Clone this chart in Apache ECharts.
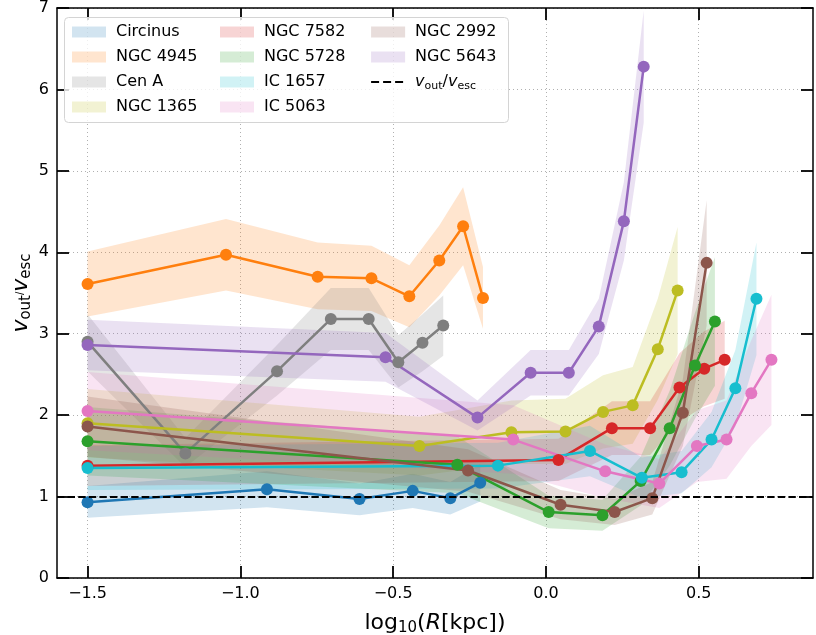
<!DOCTYPE html>
<html>
<head>
<meta charset="utf-8">
<script src="https://cdn.jsdelivr.net/npm/echarts@6/dist/echarts.min.js"></script>
<style>
html, body { margin: 0; padding: 0; background: #fff; }
#chart { width: 816px; height: 635px; }
</style>
</head>
<body>
<div id="chart"></div>
<script>
// log10(R[kpc]) positions, v_out/v_esc values and shaded band (lo / hi) per galaxy
const circinusR  = [-1.5, -0.913, -0.61, -0.436, -0.313, -0.215];
const circinusV  = [0.93, 1.09, 0.97, 1.07, 0.98, 1.17];
const circinusLo = [0.74, 0.87, 0.77, 0.86, 0.78, 0.94];
const circinusHi = [1.13, 1.31, 1.16, 1.28, 1.18, 1.40];

const ngc4945R  = [-1.5, -1.047, -0.747, -0.571, -0.447, -0.349, -0.271, -0.206];
const ngc4945V  = [3.61, 3.97, 3.70, 3.68, 3.46, 3.90, 4.32, 3.44];
const ngc4945Lo = [3.21, 3.53, 3.30, 3.28, 3.08, 3.47, 3.84, 3.06];
const ngc4945Hi = [4.01, 4.41, 4.12, 4.08, 3.84, 4.33, 4.80, 3.82];

const cenAR  = [-1.5, -1.18, -0.88, -0.704, -0.58, -0.483, -0.404, -0.336];
const cenAV  = [2.90, 1.53, 2.54, 3.18, 3.18, 2.65, 2.89, 3.10];
const cenALo = [2.54, 1.36, 2.24, 2.80, 2.80, 2.34, 2.54, 2.73];
const cenAHi = [3.24, 1.72, 2.86, 3.56, 3.56, 2.98, 3.24, 3.47];

const ngc1365R  = [-1.5, -0.414, -0.113, 0.064, 0.187, 0.284, 0.366, 0.431];
const ngc1365V  = [1.90, 1.62, 1.79, 1.80, 2.04, 2.12, 2.81, 3.53];
const ngc1365Lo = [1.48, 1.26, 1.40, 1.40, 1.59, 1.65, 2.19, 2.75];
const ngc1365Hi = [2.32, 1.98, 2.18, 2.20, 2.49, 2.59, 3.43, 4.31];

const ngc7582R  = [-1.5, 0.041, 0.216, 0.341, 0.437, 0.518, 0.585];
const ngc7582V  = [1.38, 1.45, 1.84, 1.84, 2.34, 2.57, 2.68];
const ngc7582Lo = [1.13, 1.19, 1.51, 1.51, 1.92, 2.11, 2.20];
const ngc7582Hi = [1.63, 1.71, 2.17, 2.17, 2.76, 3.03, 3.16];

const ngc5728R  = [-1.5, -0.29, 0.009, 0.185, 0.31, 0.405, 0.488, 0.553];
const ngc5728V  = [1.68, 1.39, 0.81, 0.77, 1.19, 1.84, 2.61, 3.15];
const ngc5728Lo = [1.26, 1.04, 0.61, 0.58, 0.89, 1.38, 1.96, 2.36];
const ngc5728Hi = [2.10, 1.74, 1.01, 0.96, 1.49, 2.30, 3.26, 3.94];

const ic1657R  = [-1.5, -0.157, 0.144, 0.314, 0.444, 0.542, 0.62, 0.689];
const ic1657V  = [1.35, 1.38, 1.56, 1.23, 1.30, 1.70, 2.33, 3.43];
const ic1657Lo = [1.08, 1.10, 1.25, 0.98, 1.04, 1.36, 1.86, 2.74];
const ic1657Hi = [1.62, 1.66, 1.87, 1.48, 1.56, 2.04, 2.80, 4.12];

const ic5063R  = [-1.5, -0.107, 0.194, 0.371, 0.494, 0.591, 0.672, 0.738];
const ic5063V  = [2.05, 1.70, 1.31, 1.16, 1.62, 1.70, 2.27, 2.68];
const ic5063Lo = [1.57, 1.28, 0.98, 0.86, 1.18, 1.22, 1.62, 1.88];
const ic5063Hi = [2.53, 2.12, 1.64, 1.46, 2.06, 2.18, 2.92, 3.48];

const ngc2992R  = [-1.5, -0.255, 0.048, 0.225, 0.348, 0.448, 0.526];
const ngc2992V  = [1.86, 1.32, 0.90, 0.81, 0.98, 2.03, 3.87];
const ngc2992Lo = [1.49, 1.06, 0.72, 0.65, 0.78, 1.62, 3.10];
const ngc2992Hi = [2.23, 1.58, 1.08, 0.97, 1.18, 2.44, 4.64];

const ngc5643R  = [-1.5, -0.525, -0.224, -0.05, 0.075, 0.173, 0.255, 0.32];
const ngc5643V  = [2.86, 2.71, 1.97, 2.52, 2.52, 3.09, 4.38, 6.28];
const ngc5643Lo = [2.55, 2.41, 1.81, 2.24, 2.24, 2.75, 3.90, 5.59];
const ngc5643Hi = [3.17, 3.01, 2.18, 2.80, 2.80, 3.43, 4.86, 6.97];

const escapeRatio = 1;
const xTicks = [-1.5, -1.0, -0.5, 0.0, 0.5];

const galaxies = [
    ['Circinus', circinusR, circinusV, circinusLo, circinusHi, '#1f77b4'],
    ['NGC 4945', ngc4945R, ngc4945V, ngc4945Lo, ngc4945Hi, '#ff7f0e'],
    ['Cen A', cenAR, cenAV, cenALo, cenAHi, '#7f7f7f'],
    ['NGC 1365', ngc1365R, ngc1365V, ngc1365Lo, ngc1365Hi, '#bcbd22'],
    ['NGC 7582', ngc7582R, ngc7582V, ngc7582Lo, ngc7582Hi, '#d62728'],
    ['NGC 5728', ngc5728R, ngc5728V, ngc5728Lo, ngc5728Hi, '#2ca02c'],
    ['IC 1657', ic1657R, ic1657V, ic1657Lo, ic1657Hi, '#17becf'],
    ['IC 5063', ic5063R, ic5063V, ic5063Lo, ic5063Hi, '#e377c2'],
    ['NGC 2992', ngc2992R, ngc2992V, ngc2992Lo, ngc2992Hi, '#8c564b'],
    ['NGC 5643', ngc5643R, ngc5643V, ngc5643Lo, ngc5643Hi, '#9467bd'],
];

const FONT = '"DejaVu Sans", Verdana, sans-serif';
const DASH = [7.4, 3.2];

function fade(hex, a) {
    const n = parseInt(hex.slice(1), 16);
    return `rgba(${(n >> 16) & 255},${(n >> 8) & 255},${n & 255},${a})`;
}

// shaded band as one polygon through the axis scales
function bandSeries(name, xs, lo, hi, color) {
    return {
        type: 'custom',
        name: name,
        silent: true,
        clip: true,
        itemStyle: {color: fade(color, 0.2)},
        encode: {x: 0, y: [1, 2]},
        data: xs.map((x, i) => [x, lo[i], hi[i]]),
        renderItem: function (params, api) {
            if (params.dataIndex !== 0) return null;
            const pts = [];
            for (let i = 0; i < xs.length; i++) pts.push(api.coord([xs[i], hi[i]]));
            for (let i = xs.length - 1; i >= 0; i--) pts.push(api.coord([xs[i], lo[i]]));
            return {
                type: 'polygon',
                shape: {points: pts},
                style: {fill: fade(color, 0.2), stroke: null},
            };
        },
    };
}

const series = [];
galaxies.forEach(g => {
    const [name, xs, ys, lo, hi, color] = g;
    series.push({
        type: 'line',
        name: name + ' line',
        data: xs.map((x, i) => [x, ys[i]]),
        symbol: 'circle',
        symbolSize: 12,
        showAllSymbol: true,
        lineStyle: {color: color, width: 2.5},
        itemStyle: {color: color},
        silent: true,
    });
    series.push(bandSeries(name, xs, lo, hi, color));
});
series.push({
    type: 'line',
    name: 'ratio',
    data: [],
    symbol: 'none',
    itemStyle: {color: '#000'},
    lineStyle: {color: '#000', width: 2, type: DASH},
    markLine: {
        silent: true,
        symbol: 'none',
        label: {show: false},
        lineStyle: {color: '#000', width: 2, type: DASH},
        data: [{yAxis: escapeRatio}],
    },
});

const rich = {
    n: {fontFamily: FONT, fontSize: 22, color: '#000'},
    i: {fontFamily: FONT, fontSize: 22, fontStyle: 'italic', color: '#000'},
    s: {fontFamily: FONT, fontSize: 15, color: '#000', padding: [11, 0, 0, 0]},
};
const legendRich = {
    i: {fontFamily: FONT, fontSize: 16, fontStyle: 'italic', color: '#000'},
    s: {fontFamily: FONT, fontSize: 11, color: '#000', padding: [8, 0, 0, 0]},
};

function legendCol(left, items) {
    return {
        orient: 'vertical',
        left: left,
        top: 23,
        padding: 0,
        itemGap: 7,
        itemWidth: 34,
        itemHeight: 11,
        selectedMode: false,
        z: 100,
        textStyle: {fontFamily: FONT, fontSize: 16, color: '#000', lineHeight: 18, padding: [0, 0, 0, 5], rich: legendRich},
        formatter: name => name === 'ratio' ? '{i|v}{s|out}/{i|v}{s|esc}' : name,
        data: items.map(g => g === 'ratio'
            ? {name: 'ratio', itemStyle: {color: 'rgba(0,0,0,0)', opacity: 0}, lineStyle: {color: '#000', width: 2.2, type: [8, 4]}}
            : {name: g[0], icon: 'rect', itemStyle: {color: fade(g[5], 0.2)}}),
    };
}

const axisLineStyle = {color: '#000', width: 1.5};
const tickStyle = {color: '#000', width: 1.8};

const chart = echarts.init(document.getElementById('chart'));
chart.setOption({
    animation: false,
    backgroundColor: '#fff',
    grid: {left: 57, right: 3, top: 8, bottom: 57, containLabel: false, outerBoundsMode: 'none'},
    graphic: [{
        type: 'rect',
        left: 64, top: 17,
        shape: {width: 444, height: 105, r: 4},
        style: {fill: 'rgba(255,255,255,0.8)', stroke: '#d4d4d4', lineWidth: 1},
        z: 90,
    }],
    legend: [
        legendCol(72, galaxies.slice(0, 4)),
        legendCol(220, galaxies.slice(4, 8)),
        legendCol(370, [galaxies[8], galaxies[9], 'ratio']),
    ],
    xAxis: [{
        type: 'value',
        min: -1.6,
        max: 0.874,
        position: 'bottom',
        name: '{n|log}{s|10}{n|(}{i|R}{n|[kpc])}',
        nameLocation: 'middle',
        nameGap: 32,
        nameTextStyle: {rich: rich},
        axisLine: {onZero: false, lineStyle: axisLineStyle},
        axisTick: {inside: true, length: 12, lineStyle: tickStyle, customValues: xTicks},
        axisLabel: {
            customValues: xTicks,
            fontFamily: FONT, fontSize: 16, color: '#000', margin: 8,
            formatter: v => v.toFixed(1).replace('-', '\u2212'),
        },
        splitLine: {show: true, lineStyle: {color: '#b0b0b0', type: [1, 3], width: 1}},
    }, {
        type: 'value',
        min: -1.6,
        max: 0.874,
        position: 'top',
        axisLine: {onZero: false, lineStyle: axisLineStyle},
        axisTick: {inside: true, length: 12, lineStyle: tickStyle, customValues: xTicks},
        axisLabel: {show: false, customValues: xTicks},
        splitLine: {show: false},
    }],
    yAxis: [{
        type: 'value',
        min: 0,
        max: 7,
        interval: 1,
        position: 'left',
        name: '{i|v}{s|out}/{i|v}{s|esc}',
        nameLocation: 'middle',
        nameGap: 23,
        nameMoveOverlap: false,
        nameRotate: 90,
        nameTextStyle: {rich: rich},
        axisLine: {onZero: false, lineStyle: axisLineStyle},
        axisTick: {inside: true, length: 12, lineStyle: tickStyle},
        axisLabel: {fontFamily: FONT, fontSize: 16, color: '#000', margin: 8},
        splitLine: {show: true, lineStyle: {color: '#b0b0b0', type: [1, 3], width: 1}},
    }, {
        type: 'value',
        min: 0,
        max: 7,
        interval: 1,
        position: 'right',
        axisLine: {onZero: false, lineStyle: axisLineStyle},
        axisTick: {inside: true, length: 12, lineStyle: tickStyle},
        axisLabel: {show: false},
        splitLine: {show: false},
    }],
    series: series,
});
</script>
</body>
</html>
